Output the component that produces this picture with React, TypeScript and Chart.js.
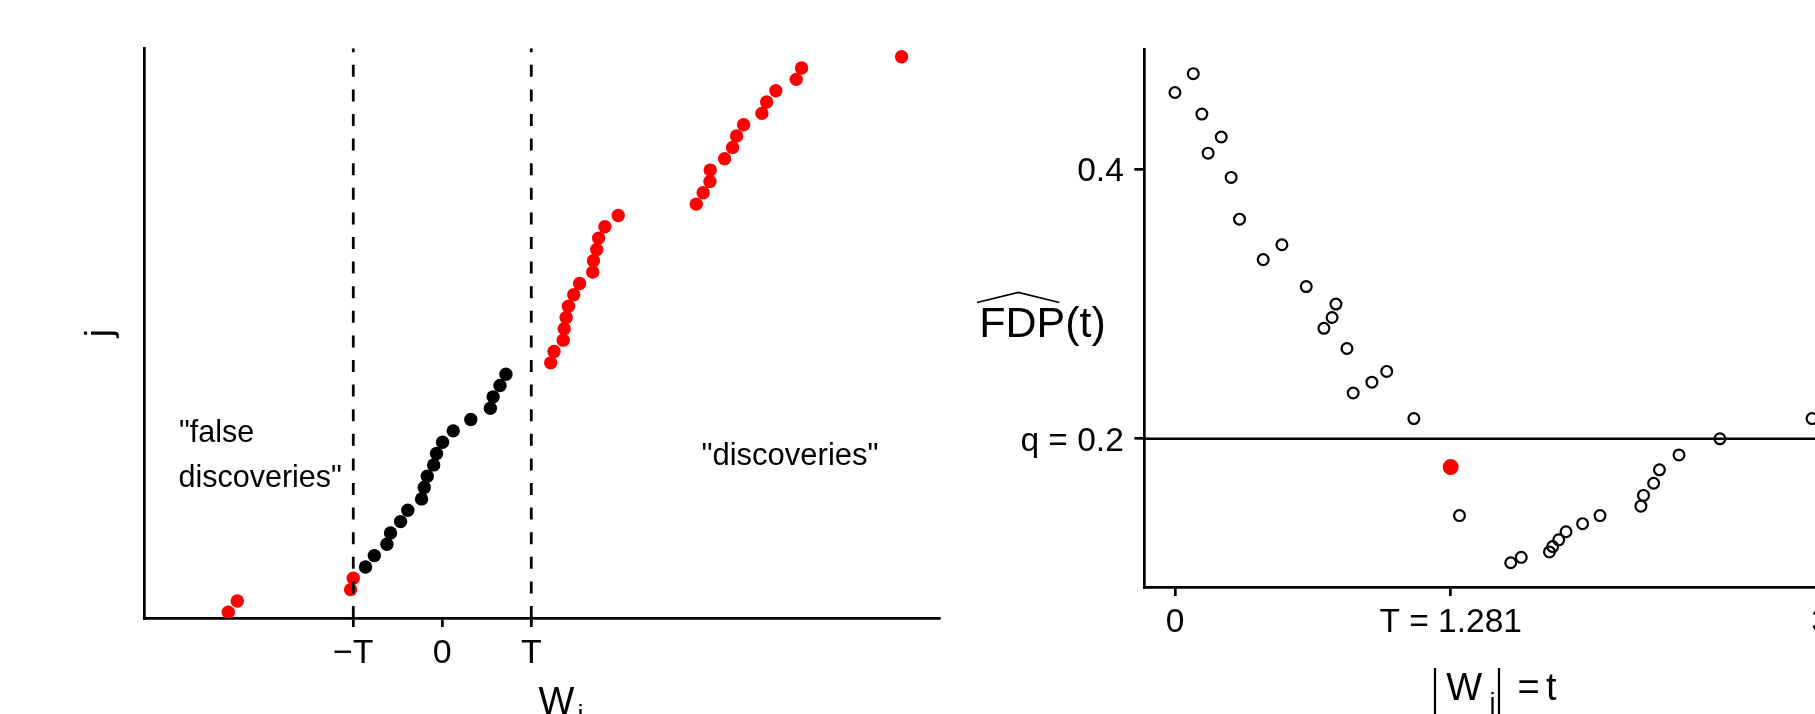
import React, { useEffect, useRef } from 'react';
import { Chart, registerables } from 'chart.js';

Chart.register(...registerables);

const FONT = '"Liberation Sans", Arial, Helvetica, sans-serif';
const RED = '#ff0000';

// threshold and target level
const T = 1.281;
const Q = 0.2;

// left panel: sorted W values, j = 1..50
const W_SORTED = [
  -3.08, -2.95, -1.32, -1.281,
  -1.105, -0.978, -0.797, -0.745, -0.6, -0.496, -0.298, -0.26, -0.216, -0.124, -0.083,
  0.004, 0.157, 0.41, 0.692, 0.732, 0.83, 0.916,
  1.56, 1.608, 1.741, 1.755, 1.782, 1.815, 1.892, 1.976, 2.165, 2.175, 2.223, 2.25, 2.34, 2.532,
  3.655, 3.755, 3.852, 3.856, 4.063, 4.178, 4.236, 4.337, 4.6, 4.668, 4.801, 5.094, 5.171, 6.61,
];
const LEFT_TICKS = [-T, 0, T];
const LEFT_TICK_LABELS = ['\u2212T', '0', 'T'];

// right panel: t = |W_j| and estimated FDP(t)
const T_VALUES = [
  0.0, 0.085, 0.125, 0.154, 0.215, 0.261, 0.3, 0.41, 0.497, 0.61, 0.692, 0.73, 0.748, 0.799,
  0.828, 0.915, 0.984, 1.11, 1.322, 1.56, 1.609, 1.74, 1.755, 1.783, 1.817, 1.894, 1.975,
  2.165, 2.177, 2.224, 2.251, 2.342, 2.532, 2.96,
];
const FDP_VALUES = [
  0.457, 0.471, 0.441, 0.412, 0.424, 0.394, 0.363, 0.333, 0.344, 0.313, 0.282, 0.29, 0.3, 0.267,
  0.234, 0.242, 0.25, 0.215, 0.143, 0.108, 0.112, 0.116, 0.12, 0.125, 0.131, 0.137, 0.143,
  0.15, 0.158, 0.167, 0.177, 0.188, 0.2, 0.215,
];
const FDP_AT_T = 0.179;
const RIGHT_X_TICKS = [0, T, 3];
const RIGHT_X_LABELS = ['0', 'T = 1.281', '3'];
const RIGHT_Y_TICKS = [0.2, 0.4];
const RIGHT_Y_LABELS = ['q = 0.2', '0.4'];

// scale ranges
const L_XMIN = -4.293;
const L_XMAX = 7.153;
const L_YMIN = 0.497;
const L_YMAX = 50.74;
const R_XMIN = -0.142;
const R_XMAX = 3.3;
const R_YMIN = 0.09;
const R_YMAX = 0.4893;

const leftText = {
  id: 'leftText',
  afterDraw(chart: any) {
    const ctx = chart.ctx as CanvasRenderingContext2D;
    const xs = chart.scales.x;
    const area = chart.chartArea;
    ctx.save();
    ctx.fillStyle = '#000';
    ctx.textBaseline = 'alphabetic';
    ctx.textAlign = 'center';
    ctx.font = `34px ${FONT}`;
    LEFT_TICKS.forEach((v, i) => ctx.fillText(LEFT_TICK_LABELS[i], xs.getPixelForValue(v), 663.3));
    // y title
    ctx.save();
    ctx.translate(110.6, (area.top + area.bottom) / 2);
    ctx.rotate(-Math.PI / 2);
    ctx.font = `37px ${FONT}`;
    ctx.fillText('j', 0, 0);
    ctx.restore();
    // x title W_i
    ctx.textAlign = 'left';
    ctx.font = `38px ${FONT}`;
    ctx.fillText('W', 538.5, 713.5);
    ctx.font = `27px ${FONT}`;
    ctx.fillText('i', 577.5, 724);
    // annotations
    ctx.font = `30.5px ${FONT}`;
    ctx.fillText('"false', 179, 441.7);
    ctx.fillText('discoveries"', 178.5, 487.3);
    ctx.textAlign = 'center';
    ctx.font = `31px ${FONT}`;
    ctx.fillText('"discoveries"', 790, 464.5);
    ctx.restore();
  },
};

const rightText = {
  id: 'rightText',
  afterDraw(chart: any) {
    const ctx = chart.ctx as CanvasRenderingContext2D;
    const xs = chart.scales.x;
    const ys = chart.scales.y;
    const area = chart.chartArea;
    ctx.save();
    ctx.fillStyle = '#000';
    ctx.strokeStyle = '#000';
    ctx.textBaseline = 'alphabetic';
    ctx.font = `33.5px ${FONT}`;
    ctx.textAlign = 'right';
    RIGHT_Y_TICKS.forEach((v, i) => ctx.fillText(RIGHT_Y_LABELS[i], area.left - 20.6, ys.getPixelForValue(v) + 12));
    ctx.textAlign = 'center';
    RIGHT_X_TICKS.forEach((v, i) => ctx.fillText(RIGHT_X_LABELS[i], xs.getPixelForValue(v), 631.7));
    // y title FDP-hat(t)
    ctx.textAlign = 'left';
    ctx.font = `43px ${FONT}`;
    ctx.fillText('FDP(t)', 29.3, 336.5);
    ctx.lineWidth = 1.8;
    ctx.beginPath();
    ctx.moveTo(27, 302.5);
    ctx.lineTo(68.3, 292.5);
    ctx.lineTo(109.3, 302.5);
    ctx.stroke();
    // x title |W_j| = t
    ctx.lineWidth = 2.2;
    ctx.beginPath();
    ctx.moveTo(485, 668);
    ctx.lineTo(485, 720);
    ctx.moveTo(549, 668);
    ctx.lineTo(549, 720);
    ctx.stroke();
    ctx.font = `38px ${FONT}`;
    ctx.fillText('W', 496.3, 700);
    ctx.fillText('=', 567.4, 700);
    ctx.fillText('t', 596, 700);
    ctx.font = `27px ${FONT}`;
    ctx.fillText('j', 539.5, 712);
    ctx.restore();
  },
};

function axisGrid(tickLength: number, drawTicks: boolean) {
  return {
    drawOnChartArea: false,
    drawTicks,
    tickLength,
    color: '#000',
    lineWidth: 2.7,
    tickColor: '#000',
    tickWidth: 2.7,
  };
}

const border = { display: true, color: '#000', width: 2.7 };

export default function App() {
  const leftRef = useRef<HTMLCanvasElement>(null);
  const rightRef = useRef<HTMLCanvasElement>(null);

  useEffect(() => {
    const left = new Chart(leftRef.current as HTMLCanvasElement, {
      type: 'scatter',
      data: {
        datasets: [
          {
            data: [{ x: -T, y: L_YMIN }, { x: -T, y: L_YMAX }],
            showLine: true,
            borderColor: '#000',
            borderWidth: 2.8,
            borderDash: [12, 12.6],
            pointRadius: 0,
          },
          {
            data: [{ x: T, y: L_YMIN }, { x: T, y: L_YMAX }],
            showLine: true,
            borderColor: '#000',
            borderWidth: 2.8,
            borderDash: [12, 12.6],
            pointRadius: 0,
          },
          {
            data: W_SORTED.map((w, i) => ({ x: w, y: i + 1 })),
            backgroundColor: W_SORTED.map((w) => (Math.abs(w) >= T - 1e-9 ? RED : '#000')),
            borderWidth: 0,
            pointRadius: 6.7,
            pointHoverRadius: 6.7,
          },
        ],
      } as any,
      options: {
        animation: false,
        responsive: false,
        devicePixelRatio: 1,
        events: [],
        layout: { padding: { top: 48.3, right: 10.7, left: 0, bottom: 0 } },
        plugins: { legend: { display: false }, tooltip: { enabled: false } },
        scales: {
          x: {
            type: 'linear',
            min: L_XMIN,
            max: L_XMAX,
            bounds: 'data',
            afterBuildTicks: (s: any) => {
              s.ticks = LEFT_TICKS.map((v) => ({ value: v }));
            },
            afterFit: (s: any) => {
              s.height = 714 - 618;
            },
            ticks: { display: false },
            grid: axisGrid(9, true),
            border,
          },
          y: {
            type: 'linear',
            min: L_YMIN,
            max: L_YMAX,
            bounds: 'data',
            afterFit: (s: any) => {
              s.width = 144;
            },
            ticks: { display: false },
            grid: axisGrid(0, false),
            border,
          },
        },
      } as any,
      plugins: [leftText],
    });

    const right = new Chart(rightRef.current as HTMLCanvasElement, {
      type: 'scatter',
      data: {
        datasets: [
          {
            data: T_VALUES.map((t, i) => ({ x: t, y: FDP_VALUES[i] })),
            backgroundColor: 'rgba(0,0,0,0)',
            borderColor: '#000',
            borderWidth: 2.2,
            pointRadius: 5.4,
            pointHoverRadius: 5.4,
          },
          {
            data: [{ x: T, y: FDP_AT_T }],
            backgroundColor: RED,
            borderWidth: 0,
            pointRadius: 8,
            pointHoverRadius: 8,
          },
          {
            data: [{ x: R_XMIN, y: Q }, { x: R_XMAX, y: Q }],
            showLine: true,
            borderColor: '#000',
            borderWidth: 2.6,
            pointRadius: 0,
          },
        ],
      } as any,
      options: {
        animation: false,
        responsive: false,
        devicePixelRatio: 1,
        events: [],
        layout: { padding: { top: 49, right: 14.8, left: 0, bottom: 0 } },
        plugins: { legend: { display: false }, tooltip: { enabled: false } },
        scales: {
          x: {
            type: 'linear',
            min: R_XMIN,
            max: R_XMAX,
            bounds: 'data',
            afterBuildTicks: (s: any) => {
              s.ticks = RIGHT_X_TICKS.map((v) => ({ value: v }));
            },
            afterFit: (s: any) => {
              s.height = 714 - 587;
            },
            ticks: { display: false },
            grid: axisGrid(9, true),
            border,
          },
          y: {
            type: 'linear',
            min: R_YMIN,
            max: R_YMAX,
            bounds: 'data',
            afterBuildTicks: (s: any) => {
              s.ticks = RIGHT_Y_TICKS.map((v) => ({ value: v }));
            },
            afterFit: (s: any) => {
              s.width = 194.4;
            },
            ticks: { display: false },
            grid: axisGrid(10, true),
            border,
          },
        },
      } as any,
      plugins: [rightText],
    });

    return () => {
      left.destroy();
      right.destroy();
    };
  }, []);

  return (
    <div
      style={{
        position: 'absolute',
        left: 0,
        top: 0,
        width: 1815,
        height: 714,
        overflow: 'hidden',
        background: '#fff',
      }}
    >
      <canvas ref={leftRef} width={950} height={714} style={{ position: 'absolute', left: 0, top: 0 }} />
      <canvas ref={rightRef} width={950} height={714} style={{ position: 'absolute', left: 950, top: 0 }} />
    </div>
  );
}
